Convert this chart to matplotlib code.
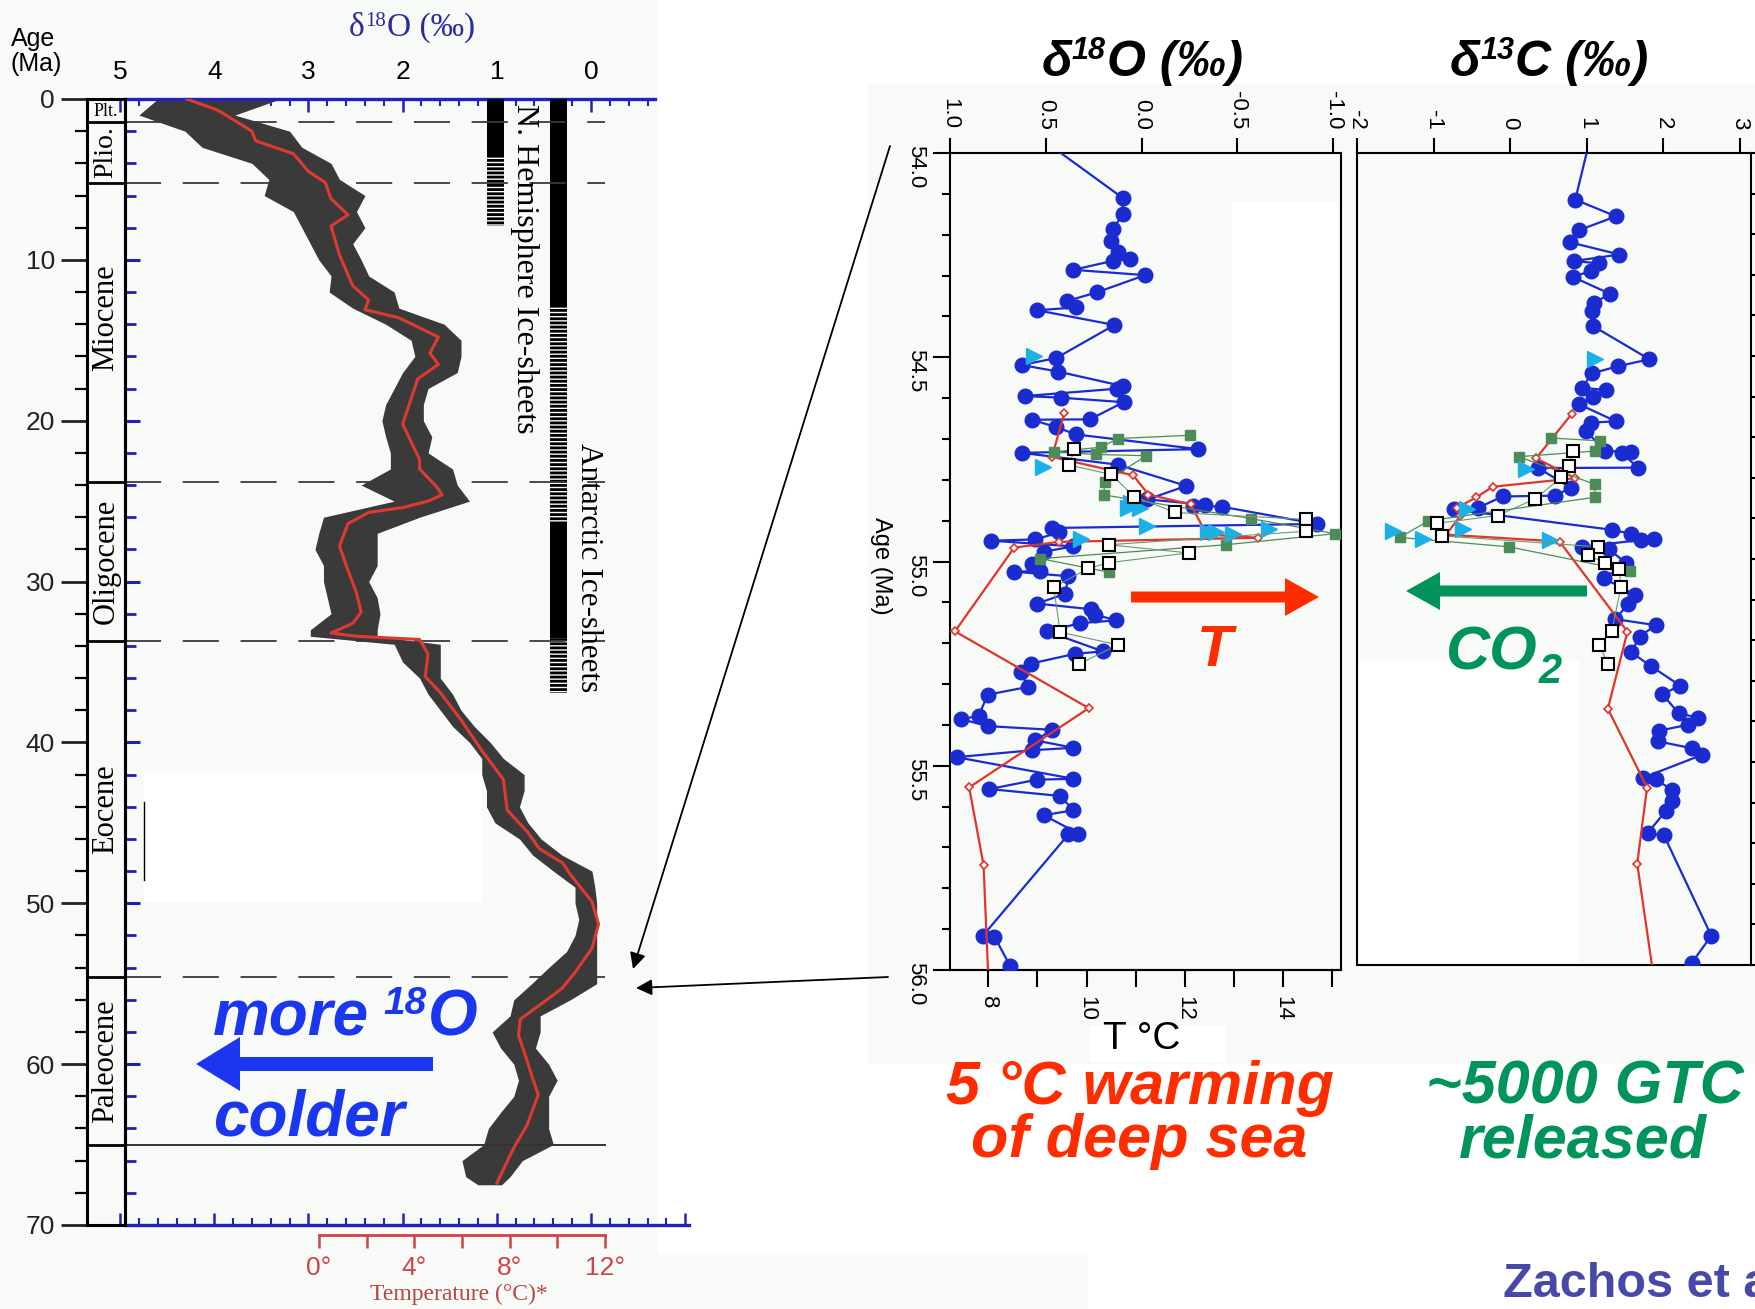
import numpy as np
import matplotlib
matplotlib.use('Agg')
import matplotlib.pyplot as plt
from matplotlib.patches import Rectangle, FancyArrow
from matplotlib.ticker import FixedLocator

plt.rcParams['font.family'] = ['Liberation Sans', 'DejaVu Sans']
plt.rcParams['axes.unicode_minus'] = False
plt.rcParams['hatch.linewidth'] = 2.0
SERIF = ['Liberation Serif', 'DejaVu Serif']

# ---- Cenozoic benthic d18O (age in Ma, d18O in permil) ----
fit_age = [0, 0.7, 2.0, 2.6, 3.4, 4.5, 5.2, 6.2, 7.2, 7.9, 9.7, 11.6, 12.5, 13.1, 13.6,
           14.8, 15.8, 16.5, 17.4, 19.0, 20.2, 22.4, 23.0, 24.1, 24.6, 25.0, 25.4, 25.7,
           26.4, 27.8, 29.3, 30.7, 31.9, 32.6, 33.2, 33.4, 33.6, 34.5, 35.9, 36.9, 38.6,
           40.5, 42.3, 44.2, 45.6, 46.6, 47.5, 48.2, 49.9, 51.3, 52.8, 54.3, 55.3, 56.3,
           57.2, 58.2, 59.4, 60.7, 61.9, 63.8, 65.2, 67.4]
fit_d18o = [4.29, 3.96, 3.60, 3.56, 3.16, 3.00, 2.82, 2.76, 2.58, 2.76, 2.67, 2.53, 2.36,
            2.40, 2.04, 1.62, 1.71, 1.62, 1.84, 1.93, 2.00, 1.82, 1.82, 1.64, 1.58, 1.73,
            2.00, 2.36, 2.58, 2.67, 2.58, 2.49, 2.44, 2.53, 2.76, 2.49, 1.82, 1.73, 1.76,
            1.60, 1.38, 1.16, 0.93, 0.89, 0.67, 0.55, 0.30, 0.22, -0.01, -0.08, -0.01,
            0.17, 0.31, 0.54, 0.75, 0.77, 0.70, 0.63, 0.56, 0.68, 0.82, 1.00]

# spread of the individual measurements around the fit
cloud_age = [0, 1, 2, 3, 4, 5, 6, 7, 8, 9, 10, 11, 12, 13, 14, 15, 16, 17, 18, 19, 20,
             21, 22, 23, 24, 25, 26, 27, 28, 29, 30, 31, 32, 33, 33.4, 33.9, 35, 36, 37,
             38, 39, 40, 41, 42, 43, 44, 45, 46, 47, 48, 49, 50, 51, 52, 53, 54, 55, 56,
             57, 58, 59, 60, 61, 62, 63, 64, 65, 66, 67, 67.5]
cloud_hi = [4.60, 4.80, 4.31, 4.13, 3.60, 3.42, 3.47, 3.16, 3.07, 2.98, 2.89, 2.76, 2.78,
            2.53, 2.18, 1.91, 1.87, 2.00, 2.09, 2.18, 2.22, 2.18, 2.13, 2.13, 2.44, 2.09,
            2.84, 2.89, 2.93, 2.84, 2.84, 2.80, 2.76, 2.98, 2.98, 2.09, 2.00, 1.82, 1.73,
            1.60, 1.47, 1.29, 1.16, 1.16, 1.11, 1.11, 1.02, 0.76, 0.62, 0.40, 0.17, 0.17,
            0.13, 0.17, 0.26, 0.45, 0.63, 0.82, 0.86, 1.05, 0.96, 0.82, 0.77, 0.82, 0.96,
            1.09, 1.14, 1.37, 1.33, 1.20]
cloud_lo = [3.30, 3.78, 3.20, 3.07, 2.76, 2.67, 2.40, 2.49, 2.40, 2.53, 2.44, 2.36, 2.09,
            2.04, 1.56, 1.38, 1.38, 1.42, 1.73, 1.78, 1.78, 1.69, 1.73, 1.47, 1.42, 1.29,
            1.82, 2.27, 2.27, 2.27, 2.36, 2.27, 2.24, 2.27, 2.27, 1.60, 1.60, 1.60, 1.47,
            1.38, 1.24, 1.07, 0.93, 0.71, 0.71, 0.76, 0.67, 0.53, 0.31, -0.01, -0.04, -0.06,
            -0.06, -0.06, -0.06, -0.06, -0.06, 0.22, 0.54, 0.54, 0.59, 0.45, 0.36, 0.45,
            0.45, 0.45, 0.40, 0.73, 0.86, 0.95]

epoch_names = ['Plt.', 'Plio.', 'Miocene', 'Oligocene', 'Eocene', 'Paleocene']
epoch_bounds = [0, 1.4, 5.2, 23.8, 33.7, 54.6, 65.0]
dashed_bounds = [1.4, 5.2, 23.8, 33.7, 54.6]

# ice-sheet bars: (top, bottom, full/partial)
nh_ice = [(0, 3.5, 'full'), (3.5, 7.9, 'partial')]
ant_ice = [(0, 12.8, 'full'), (12.8, 26.3, 'partial'), (26.3, 33.5, 'full'), (33.5, 36.9, 'partial')]

# ---- PETM records (age in Ma) ----
b18_age = [53.97, 54.110, 54.150, 54.187, 54.215, 54.242, 54.260, 54.264, 54.286, 54.299,
           54.341, 54.362, 54.378, 54.385, 54.421, 54.502, 54.519, 54.535, 54.571, 54.577,
           54.595, 54.599, 54.610, 54.652, 54.653, 54.671, 54.689, 54.725, 54.734, 54.763,
           54.815, 54.848, 54.861, 54.863, 54.866, 54.908, 54.918, 54.929, 54.946, 54.949,
           54.963, 54.976, 55.006, 55.023, 55.025, 55.036, 55.079, 55.103, 55.117, 55.130,
           55.144, 55.151, 55.171, 55.220, 55.226, 55.250, 55.271, 55.307, 55.326, 55.378,
           55.386, 55.403, 55.412, 55.438, 55.456, 55.462, 55.479, 55.532, 55.534, 55.557,
           55.574, 55.609, 55.621, 55.666, 55.668, 55.916, 55.918, 55.989]
b18_val = [0.51, 0.099, 0.099, 0.150, 0.159, 0.124, 0.061, 0.150, 0.356, -0.018, 0.233,
           0.387, 0.342, 0.545, 0.142, 0.446, 0.626, 0.437, 0.095, 0.130, 0.609, 0.421,
           0.094, 0.270, 0.571, 0.447, 0.342, -0.296, 0.626, 0.124, -0.233, -0.030, -0.330,
           -0.270, -0.420, -0.914, 0.468, 0.433, 0.554, 0.785, 0.356, 0.511, 0.571, 0.528,
           0.665, 0.382, 0.399, 0.545, 0.262, 0.245, 0.133, 0.322, 0.494, 0.202, 0.348,
           0.579, 0.631, 0.593, 0.803, 0.851, 0.940, 0.803, 0.468, 0.554, 0.356, 0.571,
           0.966, 0.356, 0.545, 0.794, 0.425, 0.356, 0.511, 0.330, 0.382, 0.828, 0.768, 0.688]
b13_age = [53.97, 54.115, 54.156, 54.190, 54.220, 54.250, 54.266, 54.272, 54.291, 54.305,
           54.347, 54.369, 54.388, 54.426, 54.508, 54.525, 54.543, 54.578, 54.584, 54.602,
           54.619, 54.661, 54.664, 54.684, 54.734, 54.736, 54.740, 54.775, 54.776, 54.825,
           54.844, 54.846, 54.874, 54.878, 54.928, 54.938, 54.951, 54.953, 54.970, 54.975,
           55.011, 55.047, 55.088, 55.112, 55.148, 55.163, 55.191, 55.230, 55.264, 55.312,
           55.333, 55.380, 55.391, 55.408, 55.423, 55.449, 55.466, 55.483, 55.539, 55.543,
           55.569, 55.595, 55.621, 55.675, 55.681, 55.928, 55.995]
b13_val = [1.04, 0.853, 1.386, 0.904, 0.785, 1.429, 0.840, 1.160, 1.053, 0.819, 1.309,
           1.096, 1.075, 1.083, 1.821, 1.416, 1.066, 0.947, 1.254, 1.083, 0.904, 1.386,
           1.053, 0.989, 1.245, 1.586, 1.467, 1.672, 0.371, 0.797, 0.584, -0.098, -0.418,
           -0.738, 1.330, 1.586, 1.885, 1.714, 0.947, 1.288, 1.522, 1.224, 1.629, 1.544,
           1.373, 1.906, 1.693, 1.586, 1.842, 2.226, 1.991, 2.205, 2.461, 2.333, 1.949,
           1.928, 2.375, 2.503, 1.736, 1.906, 2.119, 2.119, 2.034, 1.800, 2.013, 2.631, 2.375]

r18_age = [54.636, 54.744, 54.789, 54.836, 54.860, 54.933, 54.942, 54.952, 54.966, 55.171,
           55.359, 55.553, 55.743, 56.02]
r18_val = [0.403, 0.468, 0.044, -0.035, -0.255, -0.339, -0.605, 0.433, 0.665, 0.974, 0.276,
           0.900, 0.825, 0.80]
r13_age = [54.643, 54.752, 54.801, 54.822, 54.848, 54.874, 54.895, 54.940, 54.957, 55.179,
           55.369, 55.563, 55.751, 56.02]
r13_val = [0.806, 0.341, 0.853, -0.226, -0.439, -0.695, -0.652, -0.836, 0.648, 1.535, 1.279,
           1.791, 1.663, 1.87]

g18_age = [54.691, 54.699, 54.720, 54.732, 54.738, 54.741, 54.805, 54.837, 54.895, 54.932,
           54.959, 54.993, 55.026]
g18_val = [-0.253, 0.124, 0.210, 0.459, 0.236, -0.025, 0.193, 0.198, -0.571, -1.009, -0.439,
           0.528, 0.173]
g13_age = [54.702, 54.709, 54.734, 54.748, 54.816, 54.848, 54.906, 54.947, 54.970, 55.030]
g13_val = [0.533, 1.181, 1.117, 0.115, 1.109, 1.109, -1.066, -1.441, -0.013, 1.565]

w18_age = [54.725, 54.764, 54.787, 54.841, 54.880, 54.897, 54.926, 54.959, 54.979, 55.003,
           55.017, 55.063, 55.173, 55.204, 55.251]
w18_val = [0.351, 0.377, 0.159, 0.039, -0.176, -0.857, -0.857, 0.173, -0.245, 0.173, 0.279,
           0.459, 0.425, 0.124, 0.327]
w13_age = [54.734, 54.770, 54.799, 54.852, 54.893, 54.912, 54.943, 54.970, 54.990, 55.011,
           55.024, 55.069, 55.178, 55.212, 55.258]
w13_val = [0.819, 0.776, 0.670, 0.328, -0.162, -0.951, -0.887, 1.151, 1.023, 1.245, 1.429,
           1.450, 1.330, 1.168, 1.279]

c18_age = [54.498, 54.768, 54.858, 54.868, 54.869, 54.912, 54.921, 54.927, 54.929, 54.933, 54.944]
c18_val = [0.562, 0.514, 0.056, 0.008, 0.070, -0.027, -0.665, -0.348, -0.387, -0.476, 0.317]
c13_age = [54.508, 54.779, 54.877, 54.925, 54.932, 54.951, 54.953]
c13_val = [1.117, 0.213, -0.567, -0.61, -1.527, -1.143, 0.520]

BLUE_TXT = '#1a36ee'
RED_TXT = '#ff2c00'
GREEN_TXT = '#00945a'
PT_BLUE = '#1a2bd0'
AX_BLUE = '#2222bb'

W, H = 1756, 1309
fig = plt.figure(figsize=(W / 100, H / 100), dpi=100)
fig.patch.set_facecolor('white')


def box(x0, y0, x1, y1):
    return [x0 / W, 1 - y1 / H, (x1 - x0) / W, (y1 - y0) / H]


# background panels
bg = fig.add_axes([0, 0, 1, 1])
bg.set_xlim(0, W)
bg.set_ylim(H, 0)
bg.axis('off')
bg.set_zorder(-10)
LIGHT = '#f8faf8'
for x0, y0, x1, y1, c in [(0, 0, 657, 1309, LIGHT), (144, 773, 482, 902, 'white'),
                          (657, 1255, 1088, 1309, LIGHT), (868, 84, 1756, 1064, LIGHT),
                          (1232, 202, 1338, 538, 'white'), (1359, 661, 1579, 963, 'white')]:
    bg.add_patch(Rectangle((x0, y0), x1 - x0, y1 - y0, color=c, lw=0))

# ---------------- left: Cenozoic curve ----------------
ax = fig.add_axes(box(84, 99, 689, 1225), facecolor='none')
ax.set_xlim(5.382, -1.04)
ax.set_ylim(70, 0)
ax.fill_betweenx(cloud_age, cloud_hi, cloud_lo, color='#3a3a3a', lw=0, zorder=2)
ax.plot(fit_d18o, fit_age, color='#dc3a32', lw=2.2, zorder=5)
for b in dashed_bounds:
    ax.plot([4.947, -0.15], [b, b], color='#3a3a3a', lw=1.3, ls=(0, (20, 12)), zorder=4)
ax.plot([4.947, -0.15], [65, 65], color='#333333', lw=1.4, zorder=4)

for bars, (x_l, x_r) in [(nh_ice, (0.92, 1.10)), (ant_ice, (0.255, 0.435))]:
    for top, bot, kind in bars:
        if kind == 'full':
            ax.fill_betweenx([top, bot], x_l, x_r, color='black', lw=0, zorder=3)
        else:
            ax.fill_betweenx([top, bot], x_l, x_r, facecolor='none', edgecolor='black',
                             hatch='----', lw=0, zorder=3)

ax.text(0.711, 0.3, 'N. Hemisphere Ice-sheets', rotation=-90, ha='center', va='top',
        fontsize=23, family=SERIF, zorder=6)
ax.text(0.032, 21.4, 'Antarctic Ice-sheets', rotation=-90, ha='center', va='top',
        fontsize=22.5, family=SERIF, zorder=6)

for s in ['left', 'right']:
    ax.spines[s].set_visible(False)
ax.spines['top'].set_bounds(4.947, -0.68)
ax.spines['bottom'].set_bounds(4.947, -1.04)
for s in ['top', 'bottom']:
    ax.spines[s].set_color(AX_BLUE)
    ax.spines[s].set_linewidth(2.4)
ax.xaxis.set_major_locator(FixedLocator([5, 4, 3, 2, 1, 0, -1]))
ax.xaxis.set_minor_locator(FixedLocator(np.round(np.arange(4.8, -1.01, -0.2), 1)))
ax.tick_params(axis='x', which='both', top=False, bottom=True, labelbottom=False,
               direction='in', color=AX_BLUE)
ax.tick_params(axis='x', which='major', length=9, width=1.8)
ax.tick_params(axis='x', which='minor', length=5, width=1.5)
ax.set_yticks([])

# top scale stops where the top line ends
top = ax.secondary_xaxis('top')
top.xaxis.set_major_locator(FixedLocator([5, 4, 3, 2, 1, 0]))
top.xaxis.set_minor_locator(FixedLocator(np.round(np.arange(4.8, -0.61, -0.2), 1)))
top.set_xticklabels(['5', '4', '3', '2', '1', '0'])
top.spines['top'].set_visible(False)
top.tick_params(which='both', direction='in', color=AX_BLUE)
top.tick_params(which='major', length=9, width=1.8, labelsize=19, pad=11)
top.tick_params(which='minor', length=5, width=1.5)

# epoch column with the age scale
cx = fig.add_axes(box(87, 99, 125, 1225), facecolor='none')
cx.set_xlim(0, 1)
cx.set_ylim(70, 0)
for s in cx.spines.values():
    s.set_linewidth(2.2)
cx.set_xticks([])
cx.yaxis.set_major_locator(FixedLocator(range(0, 71, 10)))
cx.yaxis.set_minor_locator(FixedLocator(range(0, 71, 2)))
cx.tick_params(axis='y', which='major', direction='out', length=19, width=2,
               labelsize=19, pad=4, colors='#222222')
cx.tick_params(axis='y', which='minor', direction='out', length=9, width=1.6)
blue_ticks = cx.secondary_yaxis('right')
blue_ticks.yaxis.set_major_locator(FixedLocator(range(10, 70, 10)))
blue_ticks.yaxis.set_minor_locator(FixedLocator(range(2, 70, 2)))
blue_ticks.tick_params(which='major', direction='out', length=11, width=2.2,
                       color='#1f1fb4', labelright=False)
blue_ticks.tick_params(which='minor', direction='out', length=8, width=2, color='#1f1fb4')
blue_ticks.spines['right'].set_linewidth(2.2)
for b in epoch_bounds[1:]:
    cx.axhline(b, color='black', lw=2)
for name, t0, t1 in zip(epoch_names, epoch_bounds[:-1], epoch_bounds[1:]):
    mid = 13.6 if name == 'Miocene' else (t0 + t1) / 2
    if name == 'Plt.':
        cx.text(0.5, 0.75, name, ha='center', va='center', fontsize=13, family=SERIF)
    else:
        cx.text(0.5, mid, name, rotation=90, ha='center', va='center',
                fontsize=20 if name == 'Plio.' else 22, family=SERIF)

# temperature scale under the curve
tx = fig.add_axes(box(84, 1230, 689, 1235), facecolor='none')
tx.set_xlim(-9.86, 15.53)
for s in ['left', 'right', 'top']:
    tx.spines[s].set_visible(False)
tx.spines['bottom'].set_bounds(0, 12)
tx.spines['bottom'].set_color('#cc4444')
tx.spines['bottom'].set_linewidth(2)
tx.set_yticks([])
tx.set_xticks([0, 2, 4, 6, 8, 10, 12])
tx.set_xticklabels(['0°', '', '4°', '', '8°', '', '12°'])
tx.tick_params(axis='x', direction='out', length=9, width=1.8, colors='#c84848',
               labelsize=19, pad=6)

# ---------------- right: PETM panels ----------------
def d2t(d):
    return 8 + (0.80 - d) * 3.9


def t2d(t):
    return 0.80 - (t - 8) / 3.9


def draw_records(a, blue, red, green, white, cyan):
    a.plot(*blue, color=PT_BLUE, lw=1.6, marker='o', ms=10.5, zorder=3)
    a.plot(*red, color='#e0352c', lw=1.6, marker='D', ms=4.5, mfc='white',
           mec='#e0352c', mew=1.2, zorder=4)
    a.plot(*green, color='#4d8c58', lw=0.9, marker='s', ms=7, mec='#4d8c58', zorder=5)
    a.plot(*cyan, ls='none', marker='>', ms=11, color='#1bb0e6', zorder=6)
    a.plot(*white, color='#6a9a70', lw=0.8, marker='s', ms=9, mfc='white',
           mec='black', mew=1.5, zorder=7)


ax18 = fig.add_axes(box(950, 153, 1341, 970), facecolor='none')
ax18.set_xlim(1.0, -1.04)
ax18.set_ylim(56.0, 54.0)
draw_records(ax18, (b18_val, b18_age), (r18_val, r18_age), (g18_val, g18_age),
             (w18_val, w18_age), (c18_val, c18_age))
ax18.set_xticks([1.0, 0.5, 0.0, -0.5, -1.0])
ax18.set_xticklabels(['1.0', '0.5', '0.0', '-0.5', '-1.0'])
ax18.tick_params(axis='x', top=True, bottom=False, labeltop=True, labelbottom=False,
                 direction='out', length=11, width=1.5, labelsize=16,
                 labelrotation=-90, pad=6)
ax18.yaxis.set_major_locator(FixedLocator([54.0, 54.5, 55.0, 55.5, 56.0]))
ax18.yaxis.set_minor_locator(FixedLocator(np.round(np.arange(54.0, 56.01, 0.1), 1)))
ax18.set_yticklabels(['54.0', '54.5', '55.0', '55.5', '56.0'])
ax18.tick_params(axis='y', which='major', direction='out', length=12, width=1.5,
                 labelsize=16, labelrotation=-90, pad=5)
ax18.tick_params(axis='y', which='minor', direction='out', length=6, width=1.5)
for s in ax18.spines.values():
    s.set_linewidth(1.5)
temp = ax18.secondary_xaxis('bottom', functions=(d2t, t2d))
temp.set_xticks([8, 9, 10, 11, 12, 13, 14, 15])
temp.set_xticklabels(['8', '', '10', '', '12', '', '14', ''])
temp.tick_params(direction='out', length=12, width=1.5, labelsize=16,
                 labelrotation=-90, pad=7)
temp.spines['bottom'].set_linewidth(1.5)

ax13 = fig.add_axes(box(1357, 153, 1751, 965), facecolor='none')
ax13.set_xlim(-2, 3.15)
ax13.set_ylim(56.0, 54.0)
draw_records(ax13, (b13_val, b13_age), (r13_val, r13_age), (g13_val, g13_age),
             (w13_val, w13_age), (c13_val, c13_age))
ax13.set_xticks([-2, -1, 0, 1, 2, 3])
ax13.set_xticklabels(['-2', '-1', '0', '1', '2', '3'])
ax13.tick_params(axis='x', top=True, bottom=False, labeltop=True, labelbottom=False,
                 direction='out', length=11, width=1.5, labelsize=16,
                 labelrotation=-90, pad=6)
ax13.yaxis.set_major_locator(FixedLocator(np.round(np.arange(54.0, 56.01, 0.1), 1)))
ax13.tick_params(axis='y', left=False, right=True, labelleft=False, labelright=False,
                 direction='out', length=8, width=1.5)
for s in ax13.spines.values():
    s.set_linewidth(1.5)

# ---------------- annotations ----------------
ov = fig.add_axes([0, 0, 1, 1], facecolor='none')
ov.set_xlim(0, W)
ov.set_ylim(H, 0)
ov.axis('off')
ov.set_zorder(20)


def rich(x, y, parts, ha='center', **kw):
    r = fig.canvas.get_renderer()
    items = []
    for s, fs, rise, gap in parts:
        t = ov.text(0, 0, s, fontsize=fs, va='baseline', ha='left', **kw)
        items.append((t, t.get_window_extent(r).width + gap, rise))
    total = sum(w for _, w, _ in items)
    x0 = x - total / 2 if ha == 'center' else x
    for t, w, rise in items:
        t.set_position((x0, y - rise))
        x0 += w


ov.text(11, 27, 'Age\n(Ma)', fontsize=18, ha='left', va='top', linespacing=1.05)
rich(412, 36, [('δ', 24, 0, 0), ('18', 15, 10, 1), ('O (‰)', 24, 0, 0)],
     family=SERIF, color='#2b2b9a')
ov.text(459, 1294, 'Temperature (°C)*', ha='center', va='center', fontsize=17,
        family=SERIF, color='#b84444')
ov.plot([144, 144], [802, 880], color='black', lw=1)

bold_it = dict(fontweight='bold', fontstyle='italic')
rich(213, 1036, [('more', 46, 0, 14), ('18', 28, 22, 2), ('O', 46, 0, 0)], ha='left',
     color=BLUE_TXT, **bold_it)
ov.text(213, 1135, 'colder', fontsize=46, va='baseline', ha='left', color=BLUE_TXT, **bold_it)
ov.add_patch(FancyArrow(433, 1064, -237, 0, width=14, head_width=54, head_length=44,
                        length_includes_head=True, color=BLUE_TXT, lw=0))

rich(1142, 76, [('δ', 36, 0, 0), ('18', 22, 17, 1), ('O (‰)', 36, 0, 0)], **bold_it)
rich(1549, 76, [('δ', 36, 0, 0), ('13', 22, 17, 1), ('C (‰)', 36, 0, 0)], **bold_it)
ov.text(881, 566, 'Age (Ma)', rotation=-90, ha='center', va='center', fontsize=17)

ov.add_patch(FancyArrow(1131, 597, 188, 0, width=11, head_width=38, head_length=34,
                        length_includes_head=True, color=RED_TXT, lw=0))
ov.text(1215, 666, 'T', fontsize=42, ha='center', va='baseline', color=RED_TXT, **bold_it)
ov.add_patch(FancyArrow(1587, 591, -181, 0, width=11, head_width=38, head_length=34,
                        length_includes_head=True, color=GREEN_TXT, lw=0))
rich(1503, 670, [('CO', 44, 0, 2), ('2', 30, -13, 0)], color=GREEN_TXT, **bold_it)

ov.add_patch(Rectangle((1090, 1026), 135, 36, color='white', lw=0))
ov.text(1142, 1049, 'T °C', fontsize=28, ha='center', va='baseline')

ov.text(1140, 1104, '5 °C warming', fontsize=44, ha='center', va='baseline',
        color=RED_TXT, **bold_it)
ov.text(1139, 1157, 'of deep sea', fontsize=44, ha='center', va='baseline',
        color=RED_TXT, **bold_it)
ov.text(1585, 1104, '~5000 GTC', fontsize=44, ha='center', va='baseline',
        color=GREEN_TXT, **bold_it)
ov.text(1583, 1157, 'released', fontsize=44, ha='center', va='baseline',
        color=GREEN_TXT, **bold_it)
ov.text(1503, 1297, 'Zachos et al.', fontsize=35, ha='left', va='baseline',
        fontweight='bold', color='#4848a8')

for tail, head in [((890, 146), (633, 969)), ((888, 977), (636, 988))]:
    ov.annotate('', xy=head, xytext=tail,
                arrowprops=dict(arrowstyle='-|>', color='black', lw=1.3,
                                mutation_scale=24, shrinkA=0, shrinkB=0))

fig.savefig('out.png', dpi=100)
